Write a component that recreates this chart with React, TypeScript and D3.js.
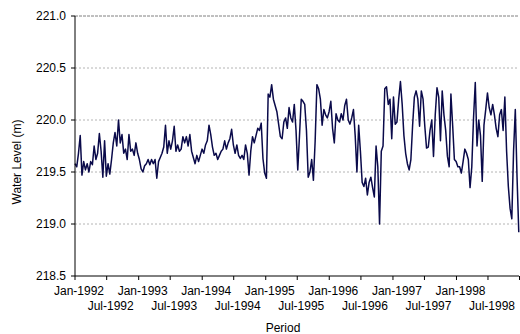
import React from 'react';
import * as d3 from 'd3';

// water level readings, one every 10 days from the start date
const startDate = new Date(1992, 0, 1);
const stepDays = 10;
const levels = [
  // 1992
  219.58, 219.55, 219.68, 219.85, 219.47, 219.60, 219.52, 219.58, 219.50, 219.60,
  219.57, 219.75, 219.62, 219.68, 219.87, 219.70, 219.45, 219.80, 219.46, 219.58,
  219.48, 219.62, 219.78, 219.88, 219.75, 220.00, 219.78, 219.86, 219.68, 219.72,
  219.62, 219.86, 219.70, 219.72, 219.66, 219.78, 219.68,
  // 1993
  219.62, 219.53, 219.50, 219.56, 219.58, 219.62, 219.57, 219.62, 219.58, 219.62,
  219.44, 219.60, 219.64, 219.68, 219.74, 219.95, 219.68, 219.80, 219.72, 219.80,
  219.94, 219.70, 219.76, 219.70, 219.72, 219.84, 219.78, 219.84, 219.75, 219.86,
  219.70, 219.64, 219.58, 219.66, 219.60, 219.66,
  // 1994
  219.72, 219.68, 219.76, 219.80, 219.95, 219.86, 219.74, 219.66, 219.68, 219.62,
  219.66, 219.70, 219.72, 219.80, 219.72, 219.78, 219.82, 219.91, 219.76, 219.68,
  219.76, 219.66, 219.63, 219.66, 219.62, 219.76, 219.68, 219.47, 219.70, 219.84,
  219.78, 219.85, 219.92, 219.90, 219.97, 219.63, 219.49, 219.44,
  // 1995
  220.25, 220.22, 220.34, 220.20, 220.14, 220.08, 219.96, 219.84, 219.82, 219.98,
  220.02, 219.92, 220.12, 220.02, 219.98, 220.15, 219.90, 219.52, 219.85, 220.20,
  220.18, 220.15, 219.90, 219.45, 219.50, 219.62, 219.42, 219.80, 220.34, 220.30,
  220.20, 219.95, 220.10, 220.05, 220.02, 220.08,
  // 1996
  220.18, 219.92, 219.78, 220.06, 220.00, 219.98, 220.06, 220.00, 220.14, 220.20,
  220.00, 219.96, 220.02, 220.10, 219.85, 219.50, 219.95, 219.70, 219.40, 219.36,
  219.44, 219.28, 219.40, 219.45, 219.35, 219.26, 219.75, 219.55, 219.00, 219.70,
  219.75, 220.30, 220.32, 220.15, 220.20, 219.82, 220.22,
  // 1997
  219.96, 219.98, 220.20, 220.37, 220.15, 219.85, 219.68, 219.58, 219.52, 219.62,
  219.95, 220.22, 220.28, 220.20, 219.94, 220.28, 220.20, 219.94, 219.73, 219.74,
  219.90, 220.00, 219.65, 220.05, 220.31, 220.22, 219.80, 220.28, 220.05, 219.90,
  219.65, 219.55, 220.25, 219.95, 219.62, 219.60, 219.55,
  // 1998
  219.55, 219.49, 219.60, 219.72, 219.68, 219.62, 219.35, 219.55, 220.02, 220.36,
  219.75, 220.00, 219.85, 219.41, 219.95, 220.10, 220.26, 220.12, 220.05, 220.15,
  220.05, 219.92, 219.84, 220.05, 220.10, 219.90, 220.22, 219.70, 219.36, 219.15,
  219.05, 219.70, 220.10, 219.45, 218.92,
];
const yTicks = [218.5, 219.0, 219.5, 220.0, 220.5, 221.0];
const xTickDates = d3.timeMonth.range(new Date(1992, 0, 1), new Date(1998, 11, 1), 6);

const W = 520;
const H = 334;
const margin = { top: 16, right: 0, bottom: 58, left: 75 };
const font = '"Liberation Sans", Arial, sans-serif';

export default function App() {
  const points = levels.map((v, i) => ({ date: d3.timeDay.offset(startDate, i * stepDays), value: v }));

  const x = d3.scaleTime()
    .domain([new Date(1992, 0, 1), new Date(1999, 0, 1)])
    .range([margin.left, W - margin.right]);
  const y = d3.scaleLinear()
    .domain([218.5, 221.0])
    .range([H - margin.bottom, margin.top]);

  const line = d3.line<{ date: Date; value: number }>()
    .x(d => x(d.date))
    .y(d => y(d.value));

  const fmt = d3.timeFormat('%b-%Y');
  const bottom = y(218.5);

  return (
    <svg width={W} height={H} style={{ position: 'absolute', left: 0, top: 0, background: '#fff' }}
      fontFamily={font}>
      {/* gridlines */}
      {yTicks.filter(t => t > 218.5).map(t => (
        <line key={t} x1={margin.left} x2={W - 1} y1={y(t)} y2={y(t)}
          stroke={t === 221.0 ? '#808080' : '#b4b4b4'} strokeDasharray={t === 221.0 ? '3,1' : '2,2'} />
      ))}

      {/* series */}
      <path d={line(points) || ''} fill="none" stroke="#0a0a4a" strokeWidth={1.5} strokeLinejoin="round" />

      {/* y axis */}
      <line x1={margin.left} x2={margin.left} y1={margin.top} y2={bottom} stroke="#000" />
      {yTicks.map(t => (
        <g key={t}>
          <line x1={margin.left - 4} x2={margin.left} y1={y(t)} y2={y(t)} stroke="#000" />
          <text x={margin.left - 9} y={y(t)} dy="0.35em" textAnchor="end" fontSize={12} fill="#000">
            {t.toFixed(1)}
          </text>
        </g>
      ))}

      {/* x axis */}
      <line x1={margin.left} x2={W - 1} y1={bottom} y2={bottom} stroke="#000" />
      {xTickDates.map((d, i) => (
        <g key={i}>
          <line x1={x(d)} x2={x(d)} y1={bottom} y2={bottom + 4} stroke="#000" />
          <text x={x(d) + 4} y={i % 2 === 0 ? 295 : 310} textAnchor="middle" fontSize={12} fill="#000">
            {fmt(d)}
          </text>
        </g>
      ))}
      <line x1={x(new Date(1999, 0, 1)) - 0.5} x2={x(new Date(1999, 0, 1)) - 0.5} y1={bottom} y2={bottom + 4} stroke="#000" />

      {/* titles */}
      <text x={283} y={332} textAnchor="middle" fontSize={12} fill="#000">Period</text>
      <text transform="translate(21,162) rotate(-90)" textAnchor="middle" fontSize={12} fill="#000">
        Water Level (m)
      </text>
    </svg>
  );
}
